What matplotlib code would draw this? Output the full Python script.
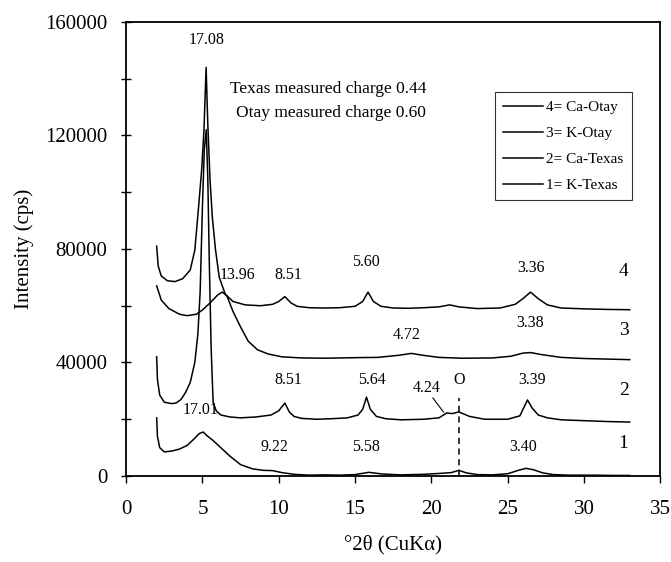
import matplotlib
matplotlib.use('Agg')
import matplotlib.pyplot as plt
from matplotlib.ticker import MultipleLocator

plt.rcParams['font.family'] = ['Liberation Serif', 'DejaVu Serif']

# 4 = Ca-Otay
x4 = [2.0, 2.1, 2.3, 2.7, 3.2, 3.7, 4.2, 4.5, 4.75, 4.95, 5.1, 5.24, 5.35, 5.5, 5.65, 5.85,
      6.1, 6.5, 7.0, 7.8, 8.8, 9.6, 10.0, 10.4, 10.8, 11.2, 12.0, 13.0, 14.0, 15.0, 15.5,
      15.85, 16.2, 16.7, 17.5, 18.5, 19.5, 20.5, 21.2, 21.8, 23.0, 24.5, 25.5, 26.0, 26.5,
      27.0, 27.6, 28.5, 30.0, 31.5, 33.0]
y4 = [81000, 74000, 70500, 68800, 68500, 69500, 72600, 79600, 95000, 108000, 122000, 144000,
      124000, 104000, 91000, 80000, 70000, 64000, 61500, 60300, 60000, 60500, 61500, 63200,
      61000, 59800, 59300, 59200, 59300, 59800, 61500, 64800, 61500, 59800, 59200, 59100,
      59300, 59600, 60300, 59600, 59000, 59200, 60500, 62500, 64800, 62500, 60300, 59200,
      58900, 58700, 58600]

# 3 = K-Otay
x3 = [2.0, 2.3, 2.8, 3.5, 4.0, 4.6, 5.0, 5.5, 6.0, 6.3, 6.6, 7.0, 7.5, 8.0, 8.6, 9.3, 10.2,
      11.5, 13.0, 15.0, 16.5, 17.8, 18.7, 19.5, 20.5, 22.0, 24.0, 25.2, 26.0, 26.5, 27.2,
      28.5, 30.0, 31.5, 33.0]
y3 = [67000, 62000, 59000, 57000, 56500, 57000, 58500, 61000, 63800, 64800, 63500, 58000,
      52500, 47500, 44500, 43000, 42000, 41600, 41500, 41700, 41800, 42500, 43200, 42500,
      41800, 41500, 41600, 42200, 43300, 43500, 42800, 41800, 41400, 41200, 41000]

# 2 = Ca-Texas
x2 = [2.0, 2.05, 2.2, 2.5, 3.0, 3.3, 3.6, 3.9, 4.2, 4.5, 4.7, 4.85, 5.0, 5.12, 5.25, 5.35,
      5.45, 5.57, 5.7, 5.9, 6.2, 6.8, 7.5, 8.5, 9.5, 10.0, 10.4, 10.7, 11.0, 11.5, 12.5,
      13.5, 14.5, 15.2, 15.5, 15.75, 16.0, 16.4, 17.0, 18.0, 19.5, 20.5, 21.0, 21.4, 21.8,
      22.5, 23.5, 25.0, 25.8, 26.3, 26.6, 27.0, 27.6, 28.5, 30.0, 31.5, 33.0]
y2 = [42000, 34000, 28500, 26000, 25500, 25800, 27000, 29500, 33000, 40000, 50000, 65000,
      95000, 115000, 122000, 105000, 75000, 45000, 26000, 23000, 21500, 20800, 20500, 20800,
      21500, 23000, 25700, 22500, 21000, 20300, 20000, 20200, 20500, 21500, 23500, 27800,
      23500, 21000, 20200, 19800, 20000, 20500, 22200, 22000, 22600, 21000, 20000, 20000,
      21200, 26800, 24000, 21500, 20500, 19800, 19500, 19200, 19000]

# 1 = K-Texas
x1 = [2.0, 2.05, 2.2, 2.5, 3.0, 3.5, 4.0, 4.4, 4.8, 5.05, 5.3, 5.7, 6.2, 6.8, 7.5, 8.3, 9.0,
      9.6, 10.2, 11.0, 12.0, 13.0, 14.0, 15.0, 15.9, 16.8, 18.0, 19.5, 20.5, 21.3, 21.8,
      22.3, 23.0, 24.0, 25.0, 25.7, 26.2, 26.7, 27.3, 28.0, 29.0, 30.5, 32.0, 33.0]
y1 = [20500, 14000, 10000, 8500, 8800, 9500, 10800, 12800, 15000, 15500, 14200, 12500,
      10000, 7000, 4000, 2500, 2000, 1900, 1200, 600, 300, 400, 300, 500, 1300, 700, 400,
      600, 900, 1200, 2000, 1100, 500, 400, 800, 2000, 2700, 2200, 1100, 500, 300, 300,
      200, 200]

series = [(x4, y4, '4= Ca-Otay'), (x3, y3, '3= K-Otay'),
          (x2, y2, '2= Ca-Texas'), (x1, y1, '1= K-Texas')]

# d-spacing labels: (text, x, y)
peak_labels = [('17.08', 5.3, 153600), ('13.96', 7.3, 70800), ('8.51', 10.6, 70800),
               ('5.60', 15.7, 75400), ('3.36', 26.5, 73300), ('4.72', 18.4, 49700),
               ('3.38', 26.5, 53900), ('8.51', 10.6, 33800), ('5.64', 16.1, 33800),
               ('4.24', 19.7, 31000), ('O', 21.8, 33800), ('3.39', 26.6, 33800),
               ('17.01', 4.85, 23300), ('9.22', 9.75, 10200), ('5.58', 15.7, 10200),
               ('3.40', 26.0, 10200)]
curve_numbers = [('4', 71900), ('3', 51400), ('2', 30300), ('1', 11600)]

fig = plt.figure(figsize=(6.71, 5.62), dpi=100)
ax = fig.add_axes([0.188, 0.153, 0.796, 0.808])

for xs, ys, lab in series:
    ax.plot(xs, ys, color='black', lw=1.1, label=lab)

for txt, xx, yy in peak_labels:
    ax.text(xx, yy, txt, ha='center', va='center', fontsize=11.5)
for txt, yy in curve_numbers:
    ax.text(32.6, yy, txt, ha='center', va='center', fontsize=14)

# quartz marker and pointer
ax.plot([21.8, 21.8], [0, 27500], color='black', lw=1.1, ls=(0, (4, 3)))
ax.plot([20.1, 20.8], [27500, 22500], color='black', lw=0.8)

ax.text(13.25, 136400, 'Texas measured charge 0.44', ha='center', va='center', fontsize=12.5)
ax.text(13.4, 128000, 'Otay measured charge 0.60', ha='center', va='center', fontsize=12.5)

ax.set_xlim(0, 35)
ax.set_ylim(0, 160000)
ax.xaxis.set_major_locator(MultipleLocator(5))
ax.yaxis.set_major_locator(MultipleLocator(40000))
ax.yaxis.set_minor_locator(MultipleLocator(20000))
ax.tick_params(axis='both', which='both', labelsize=15, width=1)
ax.tick_params(axis='y', which='both', direction='inout', length=7, pad=10)
ax.tick_params(axis='x', direction='out', length=5, pad=12)
for s in ax.spines.values():
    s.set_linewidth(1.3)

ax.set_xlabel('°2θ (CuKα)', fontsize=15, labelpad=12)
ax.set_ylabel('Intensity (cps)', fontsize=15, labelpad=8)

leg = ax.legend(loc='upper left', bbox_to_anchor=(0.676, 0.862), fontsize=11,
                frameon=True, fancybox=False, edgecolor='black', handlelength=2.6,
                handletextpad=0.2, labelspacing=0.8, borderpad=0.55)
leg.get_frame().set_linewidth(0.8)

fig.savefig('out.png', dpi=100)
